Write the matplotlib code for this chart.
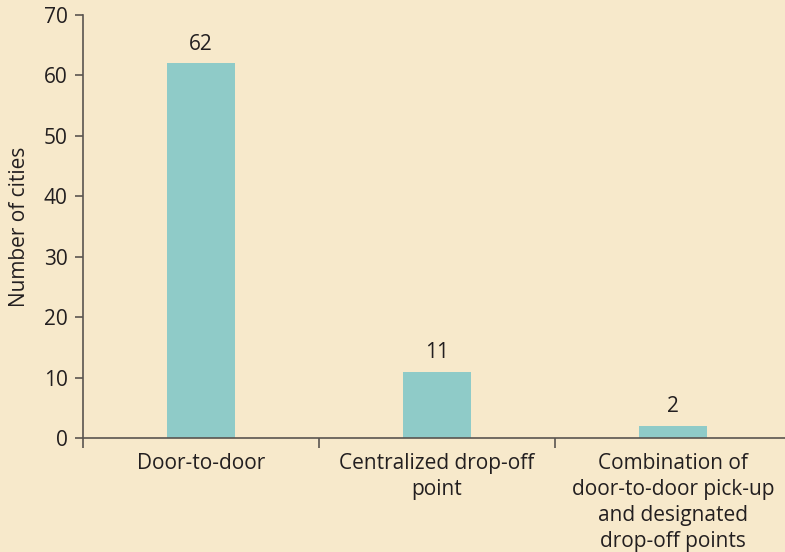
import numpy as np
import matplotlib.pyplot as plt
from matplotlib.ticker import FixedLocator, NullFormatter

categories = ["Door-to-door", "Centralized drop-off\npoint",
              "Combination of\ndoor-to-door pick-up\nand designated\ndrop-off points"]
cities = [62, 11, 2]

bg = "#F7E9CB"
bar_color = "#8FCBC8"
text_color = "#231F20"
spine_color = "#5A5550"

plt.rcParams['font.family'] = ['Open Sans', 'DejaVu Sans']
fs = 15

fig = plt.figure(figsize=(7.85, 5.52), dpi=100, facecolor=bg)
ax = fig.add_axes([83 / 785, 1 - 438 / 552, 1 - 83 / 785, (438 - 15) / 552])
ax.set_facecolor(bg)

x = np.arange(len(categories))
bars = ax.bar(x, cities, width=0.288, color=bar_color)
for xi, v in zip(x, cities):
    ax.text(xi, v + 1.4, str(v), ha="center", va="bottom", fontsize=fs, color=text_color)

ax.set_xlim(-0.5, -0.5 + 702 / 236)
ax.set_ylim(0, 70)
ax.set_yticks(range(0, 71, 10))

# category labels centred, ticks on the boundaries between groups
ax.set_xticks(x)
ax.set_xticklabels(categories, fontsize=fs, color=text_color, linespacing=1.31)
ax.tick_params(axis="x", which="major", length=0, pad=11)
ax.xaxis.set_minor_locator(FixedLocator([-0.5, 0.5, 1.5]))
ax.xaxis.set_minor_formatter(NullFormatter())
ax.tick_params(axis="x", which="minor", length=7, direction="out", color=spine_color, width=1.2)

ax.tick_params(axis="y", length=6, width=1.2, color=spine_color, labelsize=fs,
               labelcolor=text_color, pad=5)
ax.set_ylabel("Number of cities", fontsize=fs, color=text_color, labelpad=10)

for s in ["top", "right"]:
    ax.spines[s].set_visible(False)
for s in ["left", "bottom"]:
    ax.spines[s].set_color(spine_color)
    ax.spines[s].set_linewidth(1.2)

fig.savefig("out.png", dpi=100, facecolor=bg)
